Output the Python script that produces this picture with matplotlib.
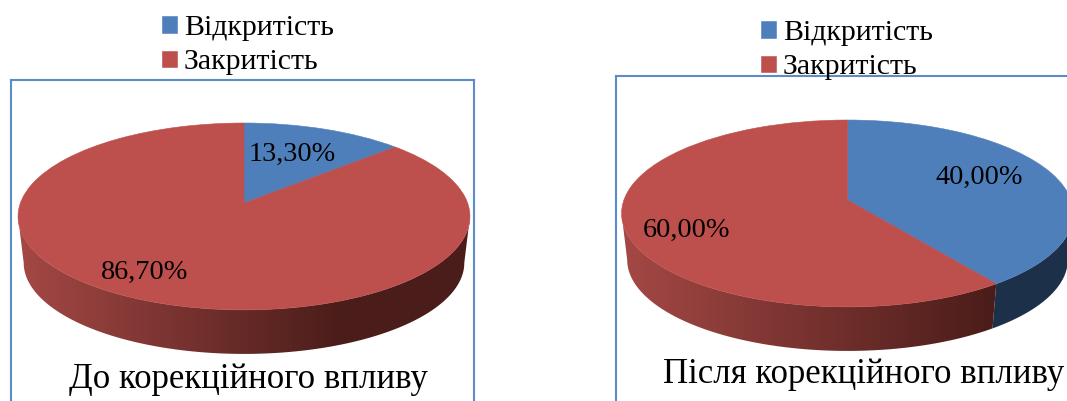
import numpy as np
import matplotlib
matplotlib.use("Agg")
import matplotlib.pyplot as plt
from matplotlib.colors import LinearSegmentedColormap
from matplotlib.patches import Polygon
from matplotlib.transforms import Transform

W, H = 1067, 401

labels = ["Відкритість", "Закритість"]
before = [13.3, 86.7]
after = [40.0, 60.0]
before_text = ["13,30%", "86,70%"]
after_text = ["40,00%", "60,00%"]
before_title = "До корекційного впливу"
after_title = "Після корекційного впливу"

BLUE = "#4F7FBB"
RED = "#BD4F4C"
BLUE_DARK = "#1C3049"
FRAME = "#5B8CC8"
FONT = "Liberation Serif"

K = 0.144
A = 223.6
B = 91.5


# flat pie to tilted disc, the far edge gets smaller
def tilt(u, v, cx, cy, scale=1.0, drop=0.0):
    w = 1 + K * v
    return cx + scale * A * u / w, cy - scale * B * v / w + drop


class Tilt(Transform):
    input_dims = 2
    output_dims = 2

    def __init__(self, cx, cy):
        super().__init__()
        self.cx = cx
        self.cy = cy

    def transform_non_affine(self, xy):
        xy = np.asarray(xy)
        x, y = tilt(xy[:, 0], xy[:, 1], self.cx, self.cy)
        return np.column_stack([x, y])


def side_wall(ax, cx, cy, start, end, color=None, dark_x=None):
    # only the front part shows, from widest point to widest point
    right = np.arccos(-K)
    left = 2 * np.pi - right
    t = np.linspace(max(start * 2 * np.pi, right), min(end * 2 * np.pi, left), 200)
    u, v = np.sin(t), np.cos(t)
    x1, y1 = tilt(u, v, cx, cy)
    x2, y2 = tilt(u, v, cx, cy, 0.975, 46.7)
    pts = np.column_stack([np.r_[x1, x2[::-1]], np.r_[y1, y2[::-1]]])
    if color is not None:
        ax.add_patch(Polygon(pts, fc=color, ec="none", zorder=1))
        return
    x0 = cx - 226
    x_end = cx + 228
    stop = (dark_x - x0) / (x_end - x0)
    cmap = LinearSegmentedColormap.from_list(
        "wall", [(0, "#A44845"), (stop, "#4B1D1A"), (1, "#4B1D1A")]
    )
    grad = np.linspace(0, 1, 450).reshape(1, -1)
    im = ax.imshow(grad, cmap=cmap, aspect="auto", zorder=1,
                   extent=[x0, x_end, cy + 170, cy - 40])
    clip = Polygon(pts, transform=ax.transData)
    im.set_clip_path(clip)


def draw_chart(box, values, texts, text_pos, title, title_pos,
               cx, cy, dark_x, legend_pos, sides):
    x0, y0, x1, y1 = box
    ax = plt.gcf().add_axes([x0 / W, 1 - y1 / H, (x1 - x0) / W, (y1 - y0) / H])

    fracs = np.cumsum([0] + values) / sum(values)
    if values[0] > 20:
        side_wall(ax, cx, cy, fracs[0], fracs[1], color=BLUE_DARK)
    side_wall(ax, cx, cy, fracs[1], fracs[2], dark_x=dark_x)

    wedges, _ = ax.pie(values, colors=[BLUE, RED], startangle=90, counterclock=False,
                       wedgeprops={"zorder": 2})
    for wedge in wedges:
        wedge.set_transform(Tilt(cx, cy) + ax.transData)
        wedge.set_edgecolor(wedge.get_facecolor())
        wedge.set_linewidth(0.4)

    ax.set_aspect("auto")
    ax.set_frame_on(True)
    ax.set_xlim(x0, x1)
    ax.set_ylim(y1, y0)
    ax.set_xticks([])
    ax.set_yticks([])
    for name, spine in ax.spines.items():
        spine.set_color(FRAME)
        spine.set_linewidth(1.5)
        spine.set_visible(name in sides)

    for txt, (tx, ty) in zip(texts, text_pos):
        ax.text(tx, ty, txt, ha="center", va="center", fontsize=20.3,
                family=FONT, color="black", zorder=4)
    ax.text(title_pos[0], title_pos[1], title, ha="center", va="center",
            fontsize=25, family=FONT, color="black", zorder=4)

    ax.legend(wedges, labels, loc="upper left", bbox_to_anchor=legend_pos,
              bbox_transform=ax.transData, frameon=False, borderpad=0, borderaxespad=0,
              handlelength=0.5, handleheight=0.47, handletextpad=0.23, labelspacing=0.28,
              prop={"family": FONT, "size": 21.5})


fig = plt.figure(figsize=(W / 100, H / 100), dpi=100)

draw_chart((11, 80, 474, 420), before, before_text, [(292, 154), (145, 272)],
           before_title, (248, 379), 244, 203, 340, (162, 15),
           ["left", "top", "right"])
draw_chart((616, 75.5, 1100, 420), after, after_text, [(979, 177), (686, 230)],
           after_title, (863.5, 374), 847.5, 200, 990, (761, 20),
           ["left", "top"])

fig.savefig("out.png", dpi=100)
